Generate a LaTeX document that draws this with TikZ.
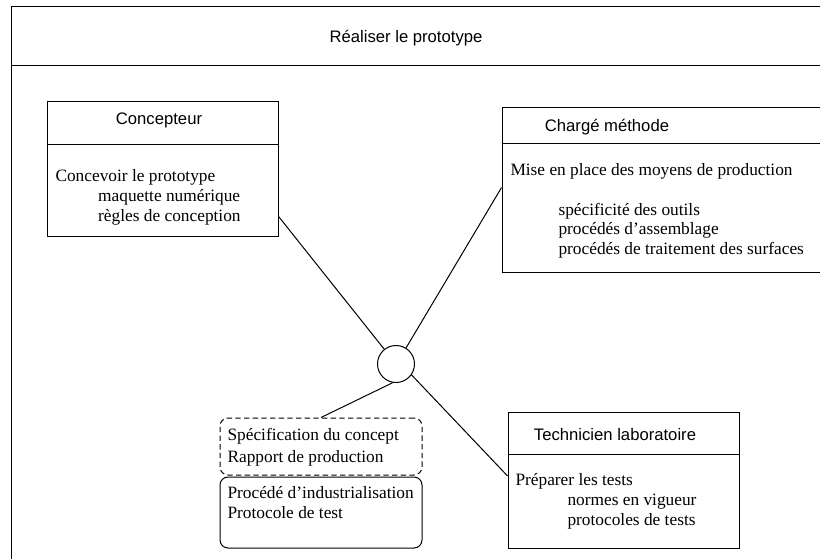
\documentclass[tikz,border=0pt]{standalone}
\usepackage{fontspec}
\setmainfont{Liberation Serif}
\setsansfont{Liberation Sans}
\usetikzlibrary{fit}

\tikzset{every picture/.style={line width=0.75pt}}
\tikzset{
	rolebox/.style={draw, inner sep=0pt},
	roletitle/.style={anchor=base, inner sep=0pt, font=\sffamily\fontsize{12.5}{15}\selectfont},
	roletext/.style={anchor=north west, inner sep=0pt, align=left, font=\fontsize{13}{15}\selectfont},
	hub/.style={circle, draw, minimum size=27.75pt, inner sep=0pt},
	docbox/.style={draw, inner sep=0pt, rounded corners=6pt}
}

\begin{document}
\begin{tikzpicture}[x=0.75pt,y=0.75pt,yscale=-1,xscale=1]
	\path[use as bounding box] (0,0) rectangle (820,559);
	\clip (0,0) rectangle (820,559);

	%Shape: Frame
	\draw  (835,7) -- (11,7) -- (11,570) ;
	%Straight Lines
	\draw    (11,66) -- (835,66) ;
	% Text Node
	\node [roletitle] (scenario) at (406,43) {Réaliser le prototype};

	%Shape: Rectangle
	\node [rolebox, fit={(47,102) (278,237)}] (concepteur) {};
	%Straight Lines
	\draw    (47,145) -- (278,145) ;
	% Text Node
	\node [roletitle] (concepteurtitle) at (159,125) {Concepteur};
	% Text Node
	\node [roletext] (concepteurtext) at (55,169) {Concevoir le prototype\\
		\hspace*{32pt}maquette numérique\\
		\hspace*{32pt}règles de conception};

	%Shape: Rectangle
	\node [rolebox, fit={(502,108) (835,273)}] (methode) {};
	%Straight Lines
	\draw    (502,144) -- (835,144) ;
	% Text Node
	\node [roletitle] (methodetitle) at (607,132) {Chargé méthode};
	% Text Node
	\node [roletext, font=\fontsize{13}{14.5}\selectfont] (methodetext) at (510,163) {Mise en place des moyens de production\\[15.5pt]
		\hspace*{36pt}spécificité des outils\\
		\hspace*{36pt}procédés d’assemblage\\
		\hspace*{36pt}procédés de traitement des surfaces};

	%Shape: Rectangle
	\node [rolebox, fit={(508,412) (739,548)}] (technicien) {};
	%Straight Lines
	\draw    (508,454) -- (739,454) ;
	% Text Node
	\node [roletitle] (technicientitle) at (615,440) {Technicien laboratoire};
	% Text Node
	\node [roletext] (techniciententext) at (515,473) {Préparer les tests\\
		\hspace*{39pt}normes en vigueur\\
		\hspace*{39pt}protocoles de tests};

	%Shape: Circle
	\node [hub] (hub) at (396,364) {};

	%Shape: Rounded Rect
	\node [docbox, dash pattern={on 4pt off 2.5pt}, fit={(220,418) (422,475)}] (entrees) {};
	% Text Node
	\node [roletext, font=\fontsize{13}{16.5}\selectfont] (entreestext) at (227,428) {Spécification du concept\\
		Rapport de production};
	%Shape: Rounded Rect
	\node [docbox, fit={(220,477) (422,548)}] (sorties) {};
	% Text Node
	\node [roletext] (sortiestext) at (227,486) {Procédé d’industrialisation\\
		Protocole de test};

	%Straight Lines
	\draw    (concepteur.-22.4) -- (hub) ;
	\draw    (methode.179) -- (hub.58) ;
	\draw    (technicien.178) -- (hub.-35) ;
	\draw    (entrees.north) -- (hub.-100) ;

\end{tikzpicture}
\end{document}
